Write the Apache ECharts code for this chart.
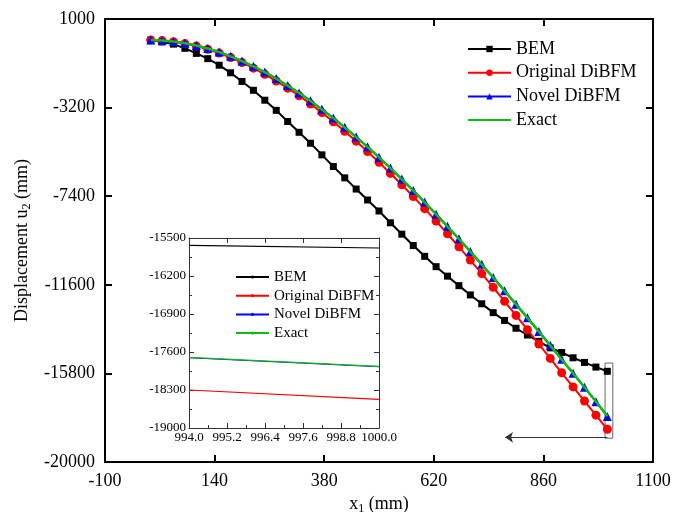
<!DOCTYPE html>
<html>
<head>
<meta charset="utf-8">
<script src="https://cdn.jsdelivr.net/npm/echarts@6/dist/echarts.min.js"></script>
<style>
html,body{margin:0;padding:0;background:#fff;}
#chart{width:692px;height:512px;}
</style>
</head>
<body>
<div id="chart"></div>
<script>
// ---- data ----
const xValues = [0,25,50,75,100,125,150,175,200,225,250,275,300,325,350,375,400,425,450,475,500,525,550,575,600,625,650,675,700,725,750,775,800,825,850,875,900,925,950,975,1000];
const bem = [0,-90,-190,-390,-630,-880,-1190,-1550,-1960,-2380,-2850,-3330,-3860,-4370,-4890,-5440,-5990,-6530,-7060,-7580,-8100,-8660,-9200,-9740,-10250,-10740,-11190,-11640,-12080,-12500,-12920,-13290,-13660,-13980,-14280,-14590,-14810,-15060,-15280,-15500,-15700];
const originalDiBFM = [0,-25,-80,-165,-285,-435,-615,-825,-1065,-1330,-1620,-1940,-2280,-2640,-3030,-3440,-3870,-4320,-4790,-5280,-5790,-6320,-6860,-7420,-7990,-8580,-9180,-9800,-10430,-11070,-11720,-12380,-13050,-13730,-14410,-15090,-15770,-16440,-17110,-17780,-18450];
const novelDiBFM = [0,-20,-70,-150,-255,-395,-565,-765,-990,-1245,-1515,-1825,-2155,-2505,-2880,-3280,-3690,-4130,-4590,-5060,-5550,-6060,-6590,-7130,-7680,-8250,-8830,-9420,-10020,-10630,-11250,-11880,-12520,-13160,-13810,-14470,-15130,-15790,-16460,-17140,-17840];
const exact = [0,-20,-70,-150,-260,-400,-570,-770,-1000,-1250,-1520,-1830,-2160,-2510,-2890,-3290,-3700,-4140,-4600,-5070,-5560,-6070,-6600,-7140,-7690,-8260,-8840,-9430,-10030,-10640,-11260,-11890,-12530,-13170,-13820,-14480,-15140,-15800,-16460,-17130,-17820];
const seriesNames = ['BEM','Original DiBFM','Novel DiBFM','Exact'];
const xTicks = [-100,140,380,620,860,1100];
const yTicks = [1000,-3200,-7400,-11600,-15800,-20000];

// inset (zoom of x 994..1000)
const insetX = [994,1000];
const insetBem = [-15636,-15684];
const insetOriginal = [-18300,-18473];
const insetNovel = [-17706,-17872];
const insetExact = [-17699,-17865];
const insetXTicks = [994,995.2,996.4,997.6,998.8,1000];
const insetXMinor = [994.6,995.8,997,998.2,999.4];
const insetYTicks = [-19000,-18300,-17600,-16900,-16200,-15500];
const insetYMinor = [-18650,-17950,-17250,-16550,-15850];

// annotation box around the x=1000 end and arrow to the inset
const boxX = [995, 1012];
const boxY = [-15310, -18870];
const arrowY = -18830;
const arrowX = [1000, 776];

// ---- chart ----
const FONT = 'Liberation Serif, Times New Roman, serif';
const pairs = (xs, ys) => xs.map((x, i) => [x, ys[i]]);
const colors = ['#000000', '#ff0000', '#0000ff', '#11bb11'];
const symbols = ['rect', 'circle', 'triangle', 'none'];
const symSizes = [7, 9, 9, 0];
const mainData = [bem, originalDiBFM, novelDiBFM, exact];
const insetData = [insetBem, insetOriginal, insetNovel, insetExact];
const INSET = ' (inset)';

function mainAxisX(pos, labels) {
  return {
    type: 'value', gridIndex: 0, position: pos, min: -100, max: 1100,
    axisLine: { show: true, onZero: false, lineStyle: { color: '#000', width: 2 } },
    axisTick: { show: true, inside: true, length: 7, customValues: xTicks, lineStyle: { color: '#000', width: 2 } },
    axisLabel: { show: labels, customValues: xTicks, margin: 10, fontSize: 18, fontFamily: FONT, color: '#000', formatter: v => String(v) },
    splitLine: { show: false },
    name: labels ? 'x{sub|1} (mm)' : '',
    nameLocation: 'middle', nameGap: 27,
    nameTextStyle: { fontSize: 18, fontFamily: FONT, color: '#000',
      rich: { sub: { fontSize: 12, fontFamily: FONT, color: '#000', padding: [9, 0, 0, 0] } } }
  };
}
function mainAxisY(pos, labels) {
  return {
    type: 'value', gridIndex: 0, position: pos, min: -20000, max: 1000,
    axisLine: { show: true, onZero: false, lineStyle: { color: '#000', width: 2 } },
    axisTick: { show: true, inside: true, length: 7, customValues: yTicks, lineStyle: { color: '#000', width: 2 } },
    axisLabel: { show: labels, customValues: yTicks, margin: 10, fontSize: 18, fontFamily: FONT, color: '#000', formatter: v => String(v) },
    splitLine: { show: false },
    name: labels ? 'Displacement u{sub|2} (mm)' : '',
    nameLocation: 'middle', nameGap: 62, nameRotate: 90,
    nameTextStyle: { fontSize: 18, fontFamily: FONT, color: '#000',
      rich: { sub: { fontSize: 12, fontFamily: FONT, color: '#000', padding: [9, 0, 0, 0] } } }
  };
}
function insetAxisX(pos, ticks, len, labels, line) {
  return {
    type: 'value', gridIndex: 1, position: pos, min: 994, max: 1000,
    axisLine: { show: line, onZero: false, lineStyle: { color: '#333', width: 1 } },
    axisTick: { show: true, inside: true, length: len, customValues: ticks, lineStyle: { color: '#333', width: 1 } },
    axisLabel: { show: labels, customValues: ticks, margin: 3, fontSize: 13, fontFamily: FONT, color: '#000', formatter: v => v.toFixed(1) },
    splitLine: { show: false }
  };
}
function insetAxisY(pos, ticks, len, labels, line) {
  return {
    type: 'value', gridIndex: 1, position: pos, min: -19000, max: -15500,
    axisLine: { show: line, onZero: false, lineStyle: { color: '#333', width: 1 } },
    axisTick: { show: true, inside: true, length: len, customValues: ticks, lineStyle: { color: '#333', width: 1 } },
    axisLabel: { show: labels, customValues: ticks, margin: 3, fontSize: 13, fontFamily: FONT, color: '#000', formatter: v => String(v) },
    splitLine: { show: false }
  };
}

const series = [];
seriesNames.forEach((name, i) => {
  const s = {
    name: name, type: 'line', xAxisIndex: 0, yAxisIndex: 0,
    data: pairs(xValues, mainData[i]),
    symbol: symbols[i], symbolSize: symSizes[i], showSymbol: symbols[i] !== 'none',
    lineStyle: { color: colors[i], width: i === 3 ? 2.5 : 2 },
    itemStyle: { color: colors[i] },
    z: 2 + i, animation: false
  };
  if (i === 0) {
    s.markArea = {
      silent: true,
      itemStyle: { color: 'rgba(0,0,0,0)', borderColor: '#666', borderWidth: 1 },
      data: [[{ coord: [boxX[0], boxY[0]] }, { coord: [boxX[1], boxY[1]] }]]
    };
    s.markLine = {
      silent: true, symbol: ['none', 'arrow'], symbolSize: 8,
      label: { show: false },
      lineStyle: { color: '#333', width: 1, type: 'solid' },
      data: [[{ coord: [arrowX[0], arrowY] }, { coord: [arrowX[1], arrowY] }]]
    };
  }
  series.push(s);
});
seriesNames.forEach((name, i) => {
  series.push({
    name: name + INSET, type: 'line', xAxisIndex: 2, yAxisIndex: 2,
    data: pairs(insetX, insetData[i]),
    symbol: 'circle', symbolSize: 3, showSymbol: false,
    lineStyle: { color: colors[i], width: 1.2 },
    itemStyle: { color: colors[i] },
    z: 20 + i, animation: false
  });
});

const option = {
  backgroundColor: '#fff',
  animation: false,
  grid: [
    { left: 105, top: 19, width: 548, height: 443, outerBoundsMode: 'none' },
    { left: 189, top: 238, width: 190, height: 190, show: true, backgroundColor: '#fff', borderWidth: 0, z: 10, outerBoundsMode: 'none' }
  ],
  xAxis: [
    mainAxisX('bottom', true),
    mainAxisX('top', false),
    Object.assign(insetAxisX('bottom', insetXTicks, 5, true, true), { z: 12 }),
    Object.assign(insetAxisX('bottom', insetXMinor, 3, false, false), { z: 12 }),
    Object.assign(insetAxisX('top', insetXTicks, 5, false, true), { z: 12 })
  ],
  yAxis: [
    mainAxisY('left', true),
    mainAxisY('right', false),
    Object.assign(insetAxisY('left', insetYTicks, 5, true, true), { z: 12 }),
    Object.assign(insetAxisY('left', insetYMinor, 3, false, false), { z: 12 }),
    Object.assign(insetAxisY('right', insetYTicks, 5, false, true), { z: 12 }),
    Object.assign(insetAxisY('right', insetYMinor, 3, false, false), { z: 12 })
  ],
  legend: [
    {
      orient: 'vertical', left: 467, top: 39, padding: 0, itemWidth: 43, itemHeight: 8, itemGap: 3.7,
      selectedMode: false,
      textStyle: { fontSize: 18, lineHeight: 20, fontFamily: FONT, color: '#000' },
      data: [seriesNames[0], seriesNames[1], seriesNames[2], { name: seriesNames[3], itemStyle: { opacity: 0 } }]
    },
    {
      orient: 'vertical', left: 235, top: 269, padding: 0, itemWidth: 33, itemHeight: 4, itemGap: 2.7,
      selectedMode: false, z: 15,
      textStyle: { fontSize: 15, lineHeight: 16, fontFamily: FONT, color: '#000' },
      formatter: n => n.replace(INSET, ''),
      data: seriesNames.map(n => n + INSET)
    }
  ],
  series: series
};

const chart = echarts.init(document.getElementById('chart'), null, { renderer: 'canvas' });
chart.setOption(option);
</script>
</body>
</html>
